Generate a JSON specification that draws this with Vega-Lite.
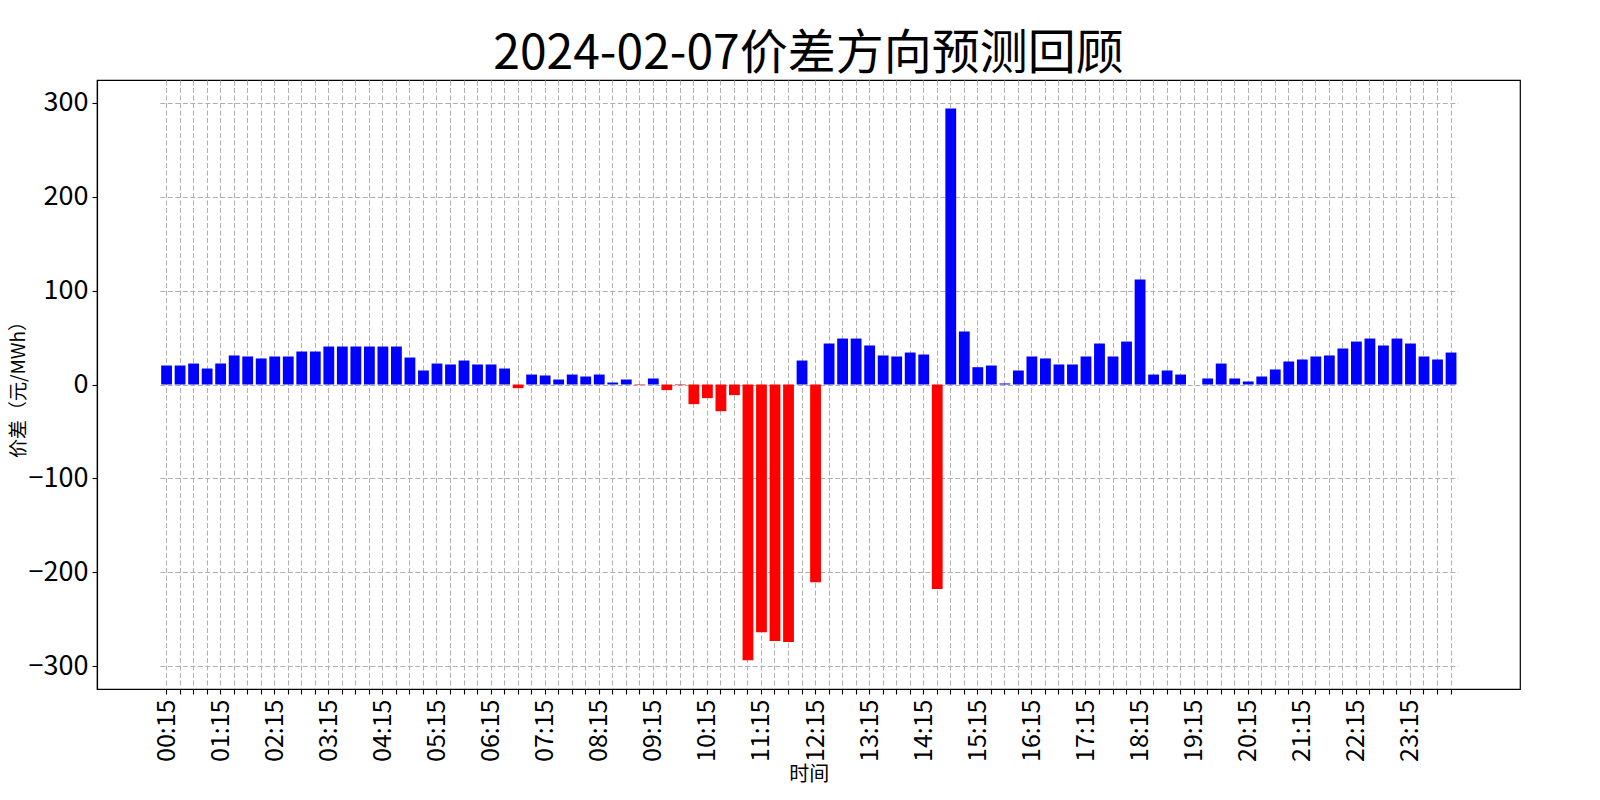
{
  "$schema": "https://vega.github.io/schema/vega-lite/v6.json",
  "autosize": "none",
  "width": 1423,
  "height": 609,
  "padding": {"left": 97, "top": 80, "right": 80, "bottom": 111},
  "background": "white",
  "title": {
    "text": "2024-02-07价差方向预测回顾",
    "font": "Noto Sans CJK SC",
    "fontSize": 48,
    "fontWeight": "normal",
    "color": "black",
    "anchor": "middle",
    "offset": 1
  },
  "data": {
    "values": [
      {"time": "00:15", "diff": 20.2}, {"time": "00:30", "diff": 20.2}, {"time": "00:45", "diff": 22.3}, {"time": "01:00", "diff": 17.0},
      {"time": "01:15", "diff": 22.3}, {"time": "01:30", "diff": 30.9}, {"time": "01:45", "diff": 29.8}, {"time": "02:00", "diff": 27.7},
      {"time": "02:15", "diff": 29.8}, {"time": "02:30", "diff": 29.8}, {"time": "02:45", "diff": 35.1}, {"time": "03:00", "diff": 35.1},
      {"time": "03:15", "diff": 40.4}, {"time": "03:30", "diff": 40.4}, {"time": "03:45", "diff": 40.4}, {"time": "04:00", "diff": 40.4},
      {"time": "04:15", "diff": 40.4}, {"time": "04:30", "diff": 40.4}, {"time": "04:45", "diff": 28.7}, {"time": "05:00", "diff": 14.9},
      {"time": "05:15", "diff": 22.3}, {"time": "05:30", "diff": 21.3}, {"time": "05:45", "diff": 25.5}, {"time": "06:00", "diff": 21.3},
      {"time": "06:15", "diff": 21.3}, {"time": "06:30", "diff": 17.0}, {"time": "06:45", "diff": -3.9}, {"time": "07:00", "diff": 10.6},
      {"time": "07:15", "diff": 9.6}, {"time": "07:30", "diff": 5.3}, {"time": "07:45", "diff": 10.6}, {"time": "08:00", "diff": 8.5},
      {"time": "08:15", "diff": 10.6}, {"time": "08:30", "diff": 2.1}, {"time": "08:45", "diff": 5.3}, {"time": "09:00", "diff": -0.5},
      {"time": "09:15", "diff": 6.4}, {"time": "09:30", "diff": -6.0}, {"time": "09:45", "diff": -0.7}, {"time": "10:00", "diff": -20.9},
      {"time": "10:15", "diff": -14.5}, {"time": "10:30", "diff": -28.4}, {"time": "10:45", "diff": -11.3}, {"time": "11:00", "diff": -293.3},
      {"time": "11:15", "diff": -263.5}, {"time": "11:30", "diff": -273.0}, {"time": "11:45", "diff": -274.1}, {"time": "12:00", "diff": 25.5},
      {"time": "12:15", "diff": -210.3}, {"time": "12:30", "diff": 43.6}, {"time": "12:45", "diff": 48.9}, {"time": "13:00", "diff": 48.9},
      {"time": "13:15", "diff": 41.5}, {"time": "13:30", "diff": 30.9}, {"time": "13:45", "diff": 29.8}, {"time": "14:00", "diff": 34.0},
      {"time": "14:15", "diff": 31.9}, {"time": "14:30", "diff": -217.7}, {"time": "14:45", "diff": 293.6}, {"time": "15:00", "diff": 56.4},
      {"time": "15:15", "diff": 18.4}, {"time": "15:30", "diff": 20.2}, {"time": "15:45", "diff": 1.1}, {"time": "16:00", "diff": 14.9},
      {"time": "16:15", "diff": 29.8}, {"time": "16:30", "diff": 27.7}, {"time": "16:45", "diff": 21.3}, {"time": "17:00", "diff": 21.3},
      {"time": "17:15", "diff": 29.8}, {"time": "17:30", "diff": 43.6}, {"time": "17:45", "diff": 29.8}, {"time": "18:00", "diff": 45.7},
      {"time": "18:15", "diff": 111.7}, {"time": "18:30", "diff": 10.6}, {"time": "18:45", "diff": 14.9}, {"time": "19:00", "diff": 10.6},
      {"time": "19:15", "diff": 0}, {"time": "19:30", "diff": 6.4}, {"time": "19:45", "diff": 22.3}, {"time": "20:00", "diff": 6.4},
      {"time": "20:15", "diff": 3.2}, {"time": "20:30", "diff": 8.5}, {"time": "20:45", "diff": 16.0}, {"time": "21:00", "diff": 24.5},
      {"time": "21:15", "diff": 26.6}, {"time": "21:30", "diff": 29.8}, {"time": "21:45", "diff": 30.9}, {"time": "22:00", "diff": 38.3},
      {"time": "22:15", "diff": 45.7}, {"time": "22:30", "diff": 48.9}, {"time": "22:45", "diff": 41.5}, {"time": "23:00", "diff": 48.9},
      {"time": "23:15", "diff": 43.6}, {"time": "23:30", "diff": 29.8}, {"time": "23:45", "diff": 26.6}, {"time": "24:00", "diff": 34.0}
    ]
  },
  "mark": {"type": "bar"},
  "encoding": {
    "x": {
      "field": "time",
      "type": "ordinal",
      "sort": null,
      "scale": {"paddingInner": 0.2, "paddingOuter": 0.1, "range": [62.8, 1360.8]},
      "axis": {
        "title": "时间",
        "titleFontSize": 20,
        "titlePadding": 3,
        "labelAngle": 270,
        "labelAlign": "right",
        "labelBaseline": "middle",
        "labelFontSize": 25,
        "labelPadding": 5,
        "labelOverlap": false,
        "labelExpr": "substring(datum.label, 3, 5) == '15' ? datum.label : ''",
        "bandPosition": 0.5,
        "grid": true
      }
    },
    "y": {
      "field": "diff",
      "type": "quantitative",
      "scale": {"domain": [-324, 324], "nice": false},
      "axis": {
        "title": "价差（元/MWh）",
        "titleFontSize": 19,
        "titlePadding": 0,
        "values": [-300, -200, -100, 0, 100, 200, 300],
        "format": "d",
        "labelFontSize": 27,
        "labelPadding": 4,
        "grid": true
      }
    },
    "color": {
      "condition": {"test": "datum.diff < 0", "value": "#ff0000"},
      "value": "#0000ff"
    }
  },
  "config": {
    "font": "Noto Sans CJK SC",
    "view": {"stroke": "black", "strokeWidth": 1.2},
    "axis": {
      "zindex": 1,
      "domainColor": "black",
      "domainWidth": 1.2,
      "tickColor": "black",
      "tickSize": 5,
      "tickWidth": 1.1,
      "labelColor": "black",
      "labelFont": "Noto Sans CJK SC",
      "titleFont": "Noto Sans CJK SC",
      "titleFontWeight": "normal",
      "titleColor": "black",
      "gridColor": "#b0b0b0",
      "gridDash": [5, 2.5],
      "gridWidth": 1
    }
  }
}
